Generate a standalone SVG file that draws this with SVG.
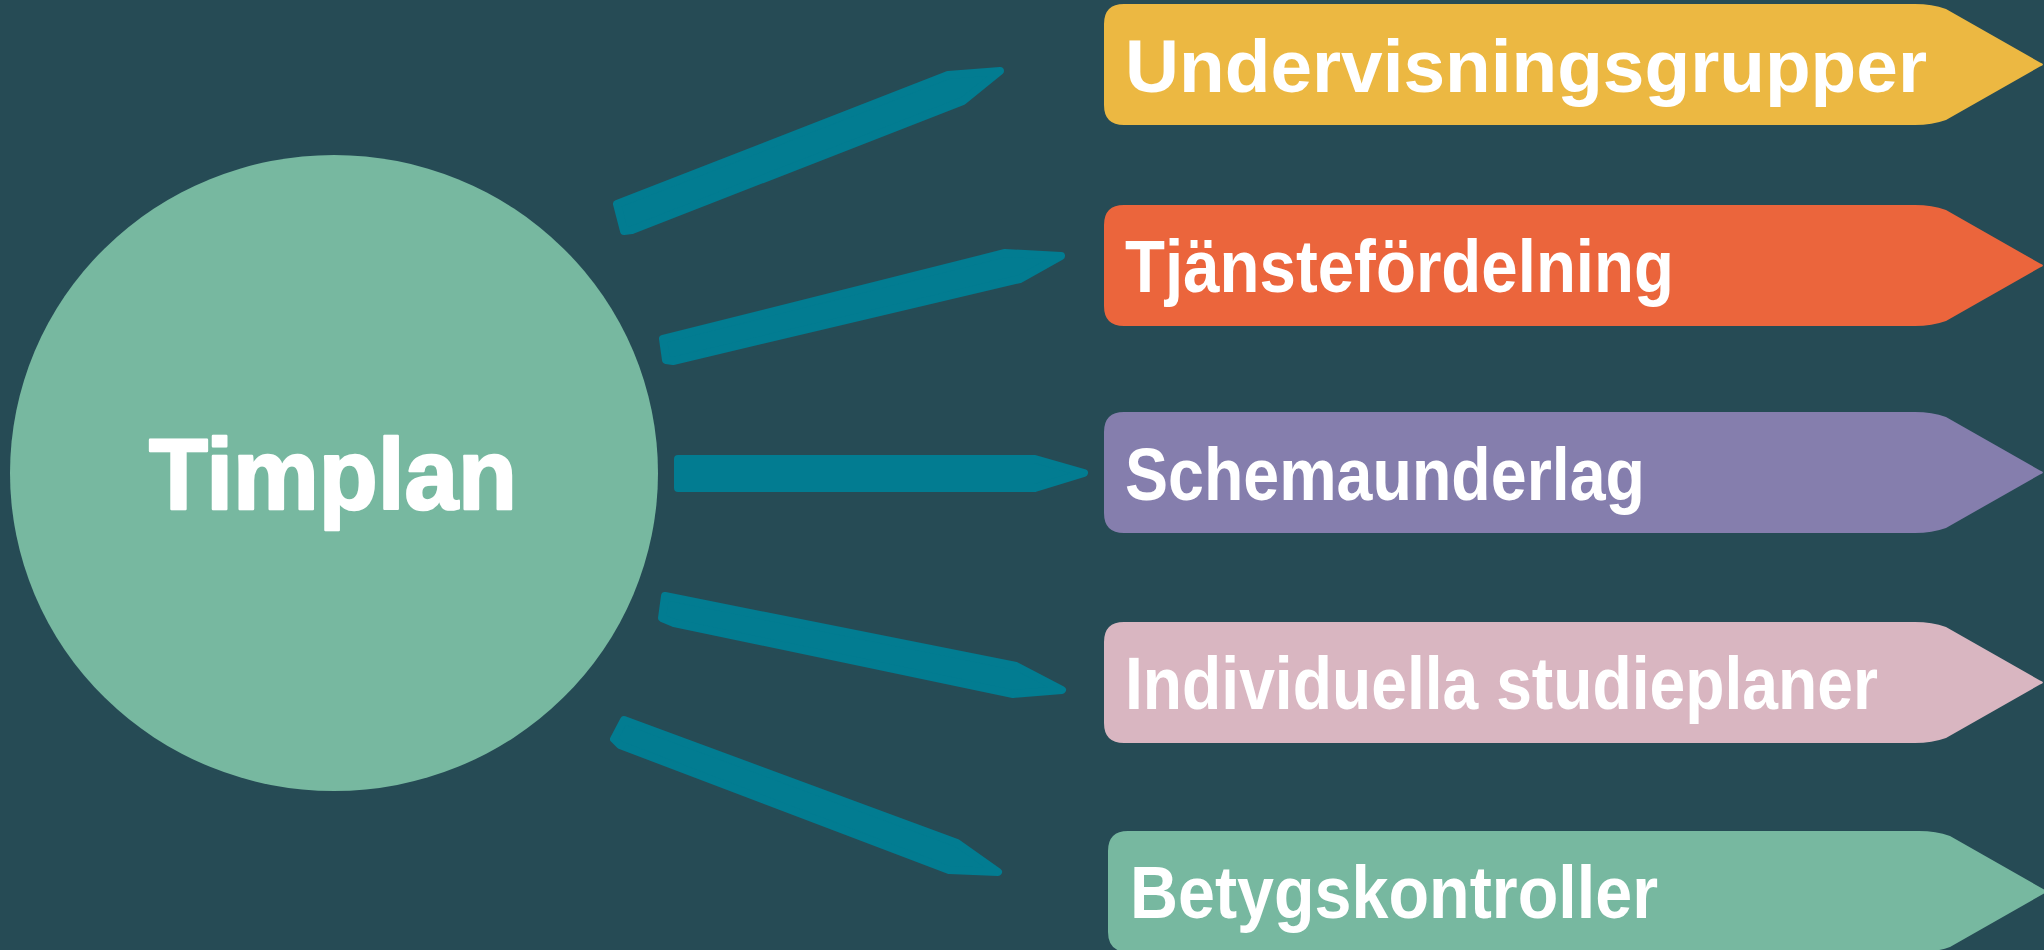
<svg xmlns="http://www.w3.org/2000/svg" width="2044" height="950" viewBox="0 0 2044 950">
<style>
.bg{fill:#264B55}
.conn{fill:#027C91;stroke:#027C91;stroke-width:8;stroke-linejoin:round}
.lbl{font-family:"Liberation Sans",Arial,sans-serif;font-weight:700;font-size:75px;fill:#FFFFFF}
.main{font-family:"Liberation Sans",Arial,sans-serif;font-weight:900;font-size:100px;fill:#FFFFFF;stroke:#FFFFFF;stroke-width:2.5;stroke-linejoin:round}
</style>
<defs>
<path id="tag" d="M1124,0 H1915 Q1932,0 1946,5 L2040,58.5 Q2046,60.5 2040,62.5 L1946,116 Q1932,121 1915,121 H1124 Q1104,121 1104,101 V20 Q1104,0 1124,0 Z"/>
</defs>
<rect class="bg" x="0" y="0" width="2044" height="950"/>
<g id="timplan">
<ellipse cx="334" cy="473" rx="324" ry="318" fill="#77B8A0"/>
<text class="main" x="149" y="509" textLength="368" lengthAdjust="spacingAndGlyphs">Timplan</text>
</g>
<g id="connectors">
<path class="conn" d="M617,204 L948,75 L1000,71 L963,101 L632,230 L624,231 Z"/>
<path class="conn" d="M663,339 L1005,253 L1061,256 L1020,279 L673,361 L666,360 Z"/>
<path class="conn" d="M678,459 L1035,459 L1084,473 L1035,488 L678,488 Z"/>
<path class="conn" d="M665,596 L1016,666 L1062,690 L1013,694 L674,623 L662,618 Z"/>
<path class="conn" d="M624,720 L957,843 L998,872 L949,870 L620,745 L614,739 Z"/>
</g>
<g id="undervisningsgrupper">
<use href="#tag" transform="translate(0,4)" fill="#ECB842"/>
<text class="lbl" x="1125" y="92" textLength="802" lengthAdjust="spacingAndGlyphs">Undervisningsgrupper</text>
</g>
<g id="tjanstefordelning">
<use href="#tag" transform="translate(0,205)" fill="#EB653C"/>
<text class="lbl" x="1125" y="292" textLength="549" lengthAdjust="spacingAndGlyphs">Tjänstefördelning</text>
</g>
<g id="schemaunderlag">
<use href="#tag" transform="translate(0,412)" fill="#857EAD"/>
<text class="lbl" x="1125" y="500" textLength="520" lengthAdjust="spacingAndGlyphs">Schemaunderlag</text>
</g>
<g id="individuella">
<use href="#tag" transform="translate(0,622)" fill="#D9B6C1"/>
<text class="lbl" x="1125" y="709" textLength="753" lengthAdjust="spacingAndGlyphs">Individuella studieplaner</text>
</g>
<g id="betygskontroller">
<use href="#tag" transform="translate(4,831)" fill="#77B8A0"/>
<text class="lbl" x="1130" y="918" textLength="528" lengthAdjust="spacingAndGlyphs">Betygskontroller</text>
</g>
</svg>
